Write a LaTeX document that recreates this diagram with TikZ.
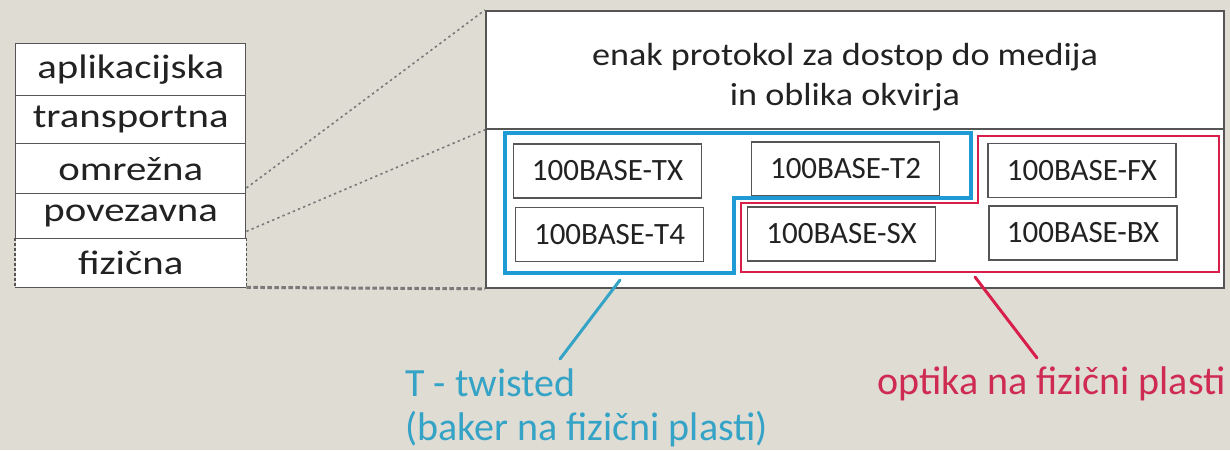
\documentclass[tikz,border=0pt]{standalone}
\usepackage{fontspec}
\setmainfont{Carlito}
\newfontfamily\widefont{Carlito}[FakeStretch=1.13]
\newfontfamily\layerfont{Carlito}[FakeStretch=1.2]
\definecolor{bg}{HTML}{DFDCD4}
\definecolor{frame}{HTML}{555555}
\definecolor{dotc}{HTML}{7A7A7A}
\definecolor{tblue}{HTML}{1E9BD4}
\definecolor{tred}{HTML}{D81E4A}
\definecolor{lblue}{HTML}{34A3C6}
\definecolor{lred}{HTML}{CF2A52}
\definecolor{ink}{HTML}{222222}
\begin{document}
\begin{tikzpicture}[x=0.5pt,y=-0.5pt,
  layer/.style={draw=frame, line width=0.7pt, fill=white, rectangle, inner sep=0pt,
    minimum width=115pt, anchor=north west, text=ink,
    font=\layerfont\fontsize{17pt}{20pt}\selectfont},
  bigpart/.style={draw=frame, line width=0.9pt, fill=white, rectangle, inner sep=0pt,
    minimum width=369pt, anchor=north west},
  basebox/.style={draw=frame, line width=0.7pt, fill=white, rectangle, inner sep=0pt,
    minimum width=94pt, minimum height=27pt, text=ink,
    font=\fontsize{15.5pt}{18pt}\selectfont},
  link/.style={dotc, line width=0.8pt, dash pattern=on 1.2pt off 1.6pt},
  linkb/.style={dotc, line width=1.5pt, dash pattern=on 2.2pt off 1.3pt},
  callout/.style={line width=1.5pt}
]
\path[fill=bg] (0,0) rectangle (1230,450);

% layer stack
\node[layer, minimum height=26pt] (apl) at (15,43) {aplikacijska};
\node[layer, minimum height=24pt] (tra) at (15,95) {transportna};
\node[layer, minimum height=25pt] (omr) at (15,143) {omrežna};
\node[layer, minimum height=22.5pt] (pov) at (15,193) {povezavna};
\node[layer, draw=none, minimum height=24pt] (fiz) at (15,238) {fizična};
\draw[frame, line width=0.7pt] (fiz.south west) -- (fiz.south east);
\draw[frame, line width=0.7pt, dash pattern=on 1.5pt off 1pt] (fiz.north west) -- (fiz.south west);
\draw[frame, line width=0.7pt, dash pattern=on 1.5pt off 1pt] (fiz.north east) -- (fiz.south east);

% big box
\node[bigpart, minimum height=59pt] (top) at (485,10) {};
\node[bigpart, minimum height=79.5pt] (bot) at (485,128) {};
\node[align=center, text=ink, font=\widefont\fontsize{16pt}{20pt}\selectfont] (toptext) at (845,77)
  {enak protokol za dostop do medija\\in oblika okvirja};

% links from stack to big box
\draw[link] ([yshift=2.5pt]pov.north east) -- (top.north west);
\draw[link] ([yshift=4pt]pov.south east) -- (top.south west);
\draw[linkb] (fiz.south east) -- (bot.south west);

% inner variants
\node[basebox] (tx) at (607.5,171) {100BASE-TX};
\node[basebox] (t4) at (609.5,234.5) {100BASE-T4};
\node[basebox] (t2) at (845.5,169) {100BASE-T2};
\node[basebox] (sx) at (841.5,234) {100BASE-SX};
\node[basebox] (fx) at (1082,170.5) {100BASE-FX};
\node[basebox] (bx) at (1083,233) {100BASE-BX};

% groups
\draw[tblue, line width=1.6pt] (505,133) -- (971,133) -- (971,198) -- (734,198) -- (734,273) -- (505,273) -- cycle;
\draw[tred, line width=1.1pt] (978,136) -- (1219,136) -- (1219,272) -- (741,272) -- (741,203) -- (978,203) -- cycle;

% labels
\node[anchor=base west, inner sep=0pt, text=lblue, font=\fontsize{20pt}{23pt}\selectfont] (twist) at (405,396) {T - twisted};
\node[anchor=base west, inner sep=0pt, text=lblue, font=\fontsize{20pt}{23pt}\selectfont] (baker) at (405,440) {(baker na fizični plasti)};
\node[anchor=base west, inner sep=0pt, text=lred, font=\fontsize{20pt}{23pt}\selectfont] (optika) at (877,394) {optika na fizični plasti};

\coordinate (bstart) at (620,280);
\coordinate (bend) at (560,359);
\coordinate (rstart) at (975,277);
\coordinate (rend) at (1037,358);
\draw[callout, lblue, line cap=round] (bstart) -- (bend);
\draw[callout, tred, line cap=round] (rstart) -- (rend);
\end{tikzpicture}
\end{document}
